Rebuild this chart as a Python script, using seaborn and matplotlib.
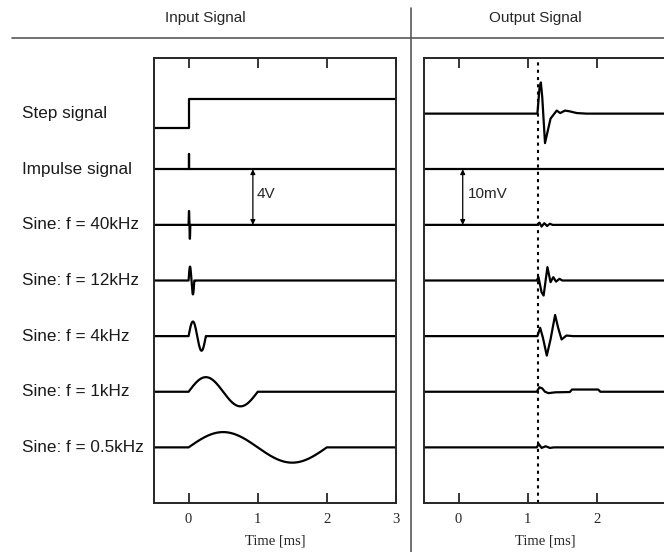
import numpy as np
import pandas as pd
import matplotlib
matplotlib.use('Agg')
import matplotlib.pyplot as plt
import matplotlib.transforms as mtransforms
from matplotlib.lines import Line2D
import seaborn as sns

# trace names, top to bottom
labels = ['Step signal', 'Impulse signal', 'Sine: f = 40kHz', 'Sine: f = 12kHz',
          'Sine: f = 4kHz', 'Sine: f = 1kHz', 'Sine: f = 0.5kHz']

# input signals [V]
step_t = [-0.5, 0.0, 0.0, 3.0]
step_v = [-1.0, -1.0, 1.05, 1.05]
impulse_t = [-0.5, 0.0, 0.0, 0.012, 0.012, 3.0]
impulse_v = [0.0, 0.0, 1.1, 1.1, 0.0, 0.0]
sine_freq_khz = [40, 12, 4, 1, 0.5]
sine_amp_v = [1.0, 1.0, 1.05, 1.05, 1.1]

# output signals [mV]
out_step_t = [-0.5, 1.14, 1.17, 1.19, 1.21, 1.25, 1.33, 1.42, 1.47, 1.54, 1.61, 1.71, 1.85, 3.0]
out_step_v = [0, 0, 4.5, 5.6, 3.0, -5.3, -0.9, 0.55, 0.1, 0.55, 0.4, 0.1, 0, 0]
out_impulse_t = [-0.5, 3.0]
out_impulse_v = [0, 0]
out_40k_t = [-0.5, 1.14, 1.17, 1.20, 1.24, 1.28, 1.32, 1.36, 3.0]
out_40k_v = [0, 0, 0.4, -0.3, 0.3, -0.2, 0.2, 0, 0]
out_12k_t = [-0.5, 1.13, 1.156, 1.20, 1.23, 1.285, 1.33, 1.37, 1.41, 1.46, 1.50, 3.0]
out_12k_v = [0, 0, 0.6, -2.1, -2.7, 2.4, -0.3, 0.6, -0.2, 0.3, 0, 0]
out_4k_t = [-0.5, 1.14, 1.18, 1.22, 1.276, 1.33, 1.396, 1.44, 1.49, 1.56, 1.66, 3.0]
out_4k_v = [0, 0, 1.5, -0.3, -3.5, -0.6, 3.8, 1.5, -0.6, 0.1, 0, 0]
out_1k_t = [-0.5, 1.13, 1.17, 1.21, 1.25, 1.30, 1.40, 1.61, 1.64, 2.02, 2.05, 3.0]
out_1k_v = [0, 0, 0.8, 0.6, 0.0, -0.25, -0.1, -0.05, 0.4, 0.4, 0, 0]
out_05k_t = [-0.5, 1.13, 1.16, 1.20, 1.26, 1.32, 1.38, 3.0]
out_05k_v = [0, 0, 0.6, -0.1, 0.2, -0.1, 0, 0]
trigger_ms = 1.15

sns.set_theme(style='ticks')
plt.rcParams['font.family'] = ['Liberation Sans', 'DejaVu Sans']

fig = plt.figure(figsize=(6.64, 5.52), dpi=100)
fig.patch.set_facecolor('white')
W, H = 664, 552
axL = fig.add_axes([154 / W, 1 - 503 / H, 242 / W, 445 / H])
axR = fig.add_axes([424 / W, 1 - 503 / H, 242 / W, 445 / H])

n = len(labels)
spacing_in, spacing_out = 4.0, 10.0


def trace(ax, t, v, off):
    df = pd.DataFrame({'t': t, 'v': np.asarray(v, dtype=float) + off})
    sns.lineplot(data=df, x='t', y='v', ax=ax, color='black', linewidth=1.6,
                 estimator=None, sort=False, errorbar=None)


# inputs
inputs = [(step_t, step_v), (impulse_t, impulse_v)]
for f, a in zip(sine_freq_khz, sine_amp_v):
    tt = np.linspace(0, 1.0 / f, 300)
    t = np.concatenate([[-0.5], tt, [3.0]])
    v = np.concatenate([[0], a * np.sin(2 * np.pi * f * tt), [0]])
    inputs.append((t, v))
for i, (t, v) in enumerate(inputs):
    trace(axL, t, v, spacing_in * (n - 1 - i))

outputs = [(out_step_t, out_step_v), (out_impulse_t, out_impulse_v), (out_40k_t, out_40k_v),
           (out_12k_t, out_12k_v), (out_4k_t, out_4k_v), (out_1k_t, out_1k_v), (out_05k_t, out_05k_v)]
for i, (t, v) in enumerate(outputs):
    trace(axR, t, v, spacing_out * (n - 1 - i))

axR.axvline(trigger_ms, color='black', linestyle=(0, (1.5, 2)), linewidth=1.5)

axL.set_ylim(-spacing_in, spacing_in * n)
axR.set_ylim(-spacing_out, spacing_out * n)

for ax, ticks in [(axL, [0, 1, 2, 3]), (axR, [0, 1, 2])]:
    ax.set_xlim(-0.5, 3.0)
    ax.set_xticks(ticks)
    ax.set_xticklabels([str(k) for k in ticks], family='Liberation Serif', fontsize=10.5)
    ax.set_yticks([])
    ax.set_xlabel('Time [ms]', family='Liberation Serif', fontsize=10.5, labelpad=6)
    ax.set_ylabel('')
    ax.tick_params(axis='x', direction='in', top=True, bottom=True, length=7,
                   width=1.3, color='0.15', pad=7)
    for s in ax.spines.values():
        s.set_visible(True)
        s.set_linewidth(1.4)
        s.set_color('0.15')

# row labels
trans = mtransforms.blended_transform_factory(fig.transFigure, axL.transData)
for i, lab in enumerate(labels):
    axL.text(22 / W, spacing_in * (n - 1 - i), lab, transform=trans, ha='left',
             va='center', fontsize=12.3, color='0.1')

# scale arrows
arrow = dict(arrowstyle='<|-|>', color='black', lw=0.9, mutation_scale=7, shrinkA=0, shrinkB=0)
axL.annotate('', xy=(0.93, spacing_in * 4), xytext=(0.93, spacing_in * 5), arrowprops=arrow)
axL.text(0.99, spacing_in * 4.55, '4V', ha='left', va='center', fontsize=11)
axR.annotate('', xy=(0.06, spacing_out * 4), xytext=(0.06, spacing_out * 5), arrowprops=arrow)
axR.text(0.13, spacing_out * 4.55, '10mV', ha='left', va='center', fontsize=11)

# header
fig.text(205 / W, 1 - 18 / H, 'Input Signal', ha='center', va='center', fontsize=11)
fig.text(535 / W, 1 - 18 / H, 'Output Signal', ha='center', va='center', fontsize=11)
fig.add_artist(Line2D([12 / W, 1], [1 - 38 / H, 1 - 38 / H], transform=fig.transFigure,
                      color='0.35', linewidth=1.2))
fig.add_artist(Line2D([411 / W, 411 / W], [0, 1 - 8 / H], transform=fig.transFigure,
                      color='0.35', linewidth=1.2))

fig.savefig('out.png', dpi=100, facecolor='white')
